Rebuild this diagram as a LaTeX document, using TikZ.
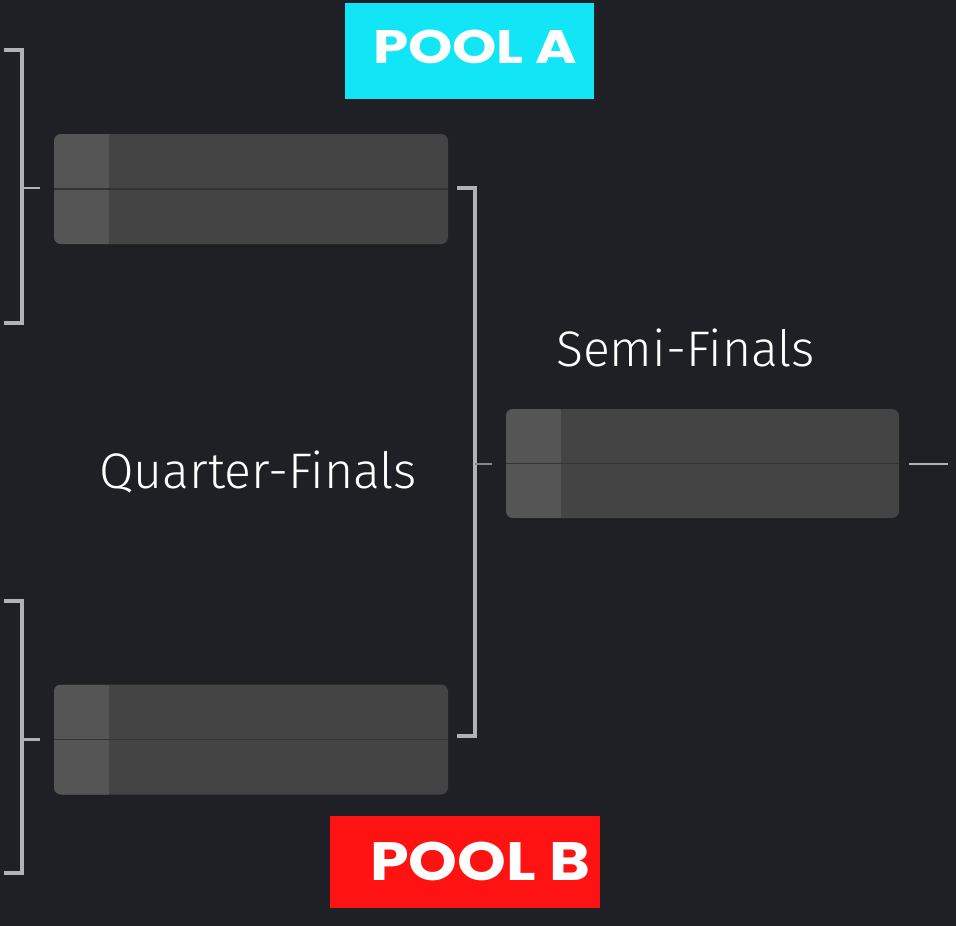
\documentclass[tikz,border=0pt]{standalone}
\usepackage{fontspec}
\IfFontExistsTF{Fira Sans Light}{\newfontfamily\lightfont{Fira Sans Light}}{%
 \IfFontExistsTF{Lato Light}{\newfontfamily\lightfont{Lato Light}}{%
  \IfFontExistsTF{Open Sans Light}{\newfontfamily\lightfont{Open Sans Light}}{%
   \newfontfamily\lightfont{Lato}}}}
\newfontfamily\poolfontA[FakeStretch=1.2]{Poppins}
\newfontfamily\poolfontB[FakeStretch=1.15]{Poppins}
\definecolor{bg}{HTML}{1F2025}
\definecolor{boxmain}{HTML}{444444}
\definecolor{boxleft}{HTML}{555555}
\definecolor{boxline}{HTML}{333333}
\definecolor{conn}{HTML}{B2B2B6}
\definecolor{poola}{HTML}{12E6F6}
\definecolor{poolb}{HTML}{FF1212}
\tikzset{
  matchbox/.style={minimum width=394pt, minimum height=110pt, rounded corners=7pt, fill=boxmain, draw=none, inner sep=0pt,
    path picture={
      \fill[boxleft, sharp corners] (path picture bounding box.south west) rectangle ([xshift=55pt]path picture bounding box.north west);
      \draw[boxline, line width=1.5pt, sharp corners] (path picture bounding box.west) -- (path picture bounding box.east);
    }},
  conn/.style={draw=conn, line width=3.4pt},
  stub/.style={draw=conn, line width=2.2pt},
  label/.style={text=white, font=\lightfont\fontsize{50}{54}\selectfont, inner sep=0pt},
  poolbox/.style={inner sep=0pt},
  pooltext/.style={text=white, inner sep=0pt}
}
\begin{document}
\begin{tikzpicture}[x=1pt,y=-1pt]
\fill[bg] (0,0) rectangle (956,926);
\useasboundingbox (0,0) rectangle (956,926);

% pool headers
\node[poolbox, fill=poola, minimum width=249pt, minimum height=96pt] (poolA) at (469.5,51) {};
\node[pooltext, anchor=base west, font=\poolfontA\bfseries\fontsize{47}{50}\selectfont] (poolAt) at ([xshift=28pt]poolA.west |- 0,63) {POOL A};
\node[poolbox, fill=poolb, minimum width=270pt, minimum height=92pt] (poolB) at (465,862) {};
\node[pooltext, anchor=base west, font=\poolfontB\bfseries\fontsize{54}{58}\selectfont] (poolBt) at ([xshift=40pt]poolB.west |- 0,880) {POOL B};

% match boxes
\node[matchbox] (qf1) at (251,189) {};
\node[matchbox] (qf2) at (251,739.5) {};
\node[matchbox, minimum width=393pt, minimum height=109pt] (sf) at (702.5,463.5) {};

% labels
\node[label, anchor=base west] (qlab) at (99,488) {Quarter-Finals};
\node[label, anchor=base west] (slab) at (556,366) {Semi-Finals};

% left bracket A
\coordinate (la1) at (4,50);
\coordinate (la2) at (22,50);
\coordinate (la3) at (22,323);
\coordinate (la4) at (4,323);
\coordinate (las) at (40,188);
\draw[conn] (la1) -- (la2) -- (la3) -- (la4);
\draw[stub] (la2 |- las) -- (las);

% left bracket B
\coordinate (lb1) at (4,601);
\coordinate (lb2) at (22,601);
\coordinate (lb3) at (22,873);
\coordinate (lb4) at (4,873);
\coordinate (lbs) at (40,739.5);
\draw[conn] (lb1) -- (lb2) -- (lb3) -- (lb4);
\draw[stub] (lb2 |- lbs) -- (lbs);

% right bracket from quarter-finals to semi-final
\coordinate (r1) at (457,188);
\coordinate (r2) at (475,188);
\coordinate (r3) at (475,736);
\coordinate (r4) at (457,736);
\coordinate (rs) at (492,464);
\draw[conn] (r1) -- (r2) -- (r3) -- (r4);
\draw[draw=conn!70!bg, line width=1.6pt] (r2 |- rs) -- (rs);

% semi-final exit
\coordinate (se) at (948,464);
\draw[stub, line width=2.6pt] ([xshift=10pt]sf.east |- se) -- (se);
\end{tikzpicture}
\end{document}
